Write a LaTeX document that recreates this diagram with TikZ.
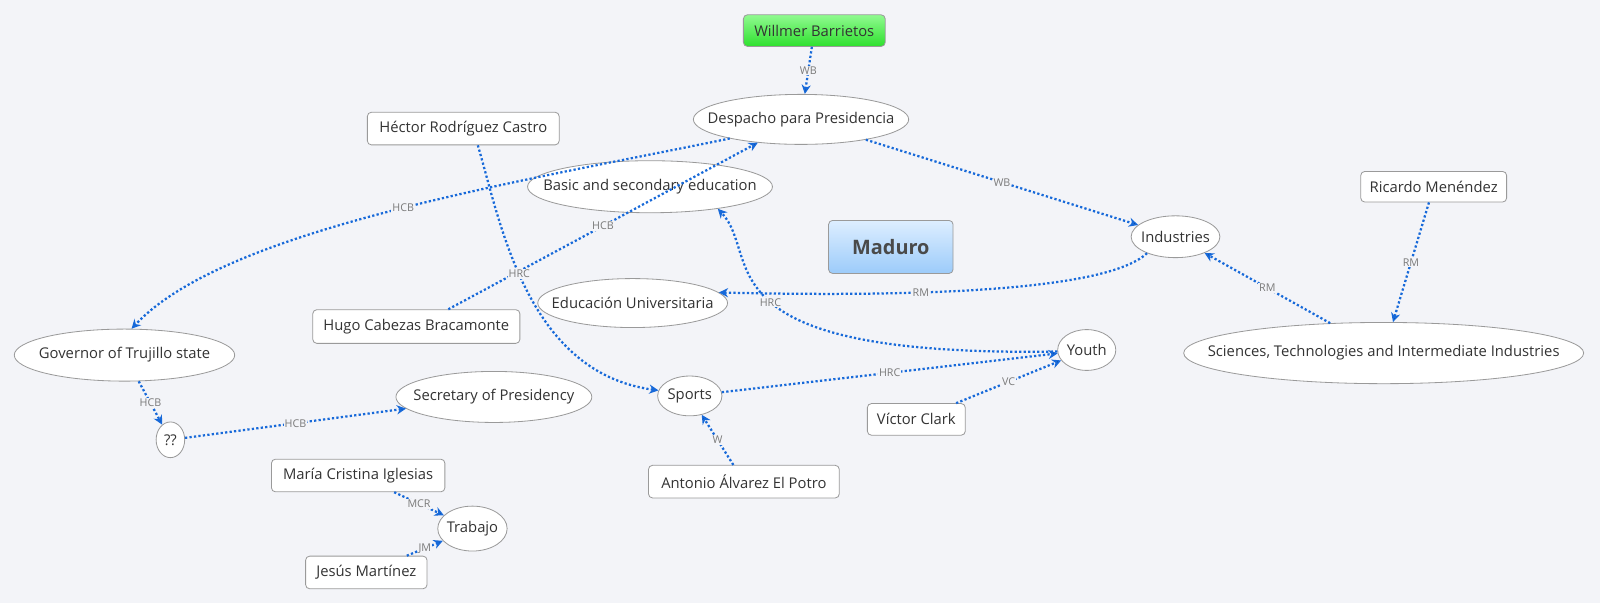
\documentclass[tikz,border=0pt]{standalone}
\usepackage{fontspec}
\setmainfont{Open Sans}
\usetikzlibrary{shapes.geometric,arrows.meta}

\definecolor{bgcol}{HTML}{F3F4F8}
\definecolor{relblue}{HTML}{1769D9}
\definecolor{bordgray}{HTML}{9A9A9A}
\definecolor{txtgray}{HTML}{333333}
\definecolor{lblgray}{HTML}{7A7A7A}
\definecolor{wbtop}{HTML}{90FA90}
\definecolor{wbbot}{HTML}{2EE02E}
\definecolor{madtop}{HTML}{DDEEFF}
\definecolor{madbot}{HTML}{9CCBFA}
\definecolor{madtext}{HTML}{4A4A4A}

\newcommand{\ctext}[1]{\makebox[0pt]{#1}}

\begin{document}
\begin{tikzpicture}[x=1pt,y=1pt,
    every node/.style={font=\fontsize{14.5}{17}\selectfont, text=txtgray},
    topic/.style 2 args={ellipse, draw=bordgray, line width=0.8pt, fill=white,
      minimum width=#1, minimum height=#2, inner sep=0pt},
    person/.style={rectangle, rounded corners=4pt, draw=bordgray, line width=0.8pt,
      fill=white, minimum height=32, inner xsep=6pt},
    rel/.style={draw=relblue, line width=2.2pt, dash pattern=on 2.2pt off 2.2pt,
      -{Stealth[length=9pt,width=9pt]}},
    lbl/.style={font=\fontsize{10.5}{12}\selectfont, text=lblgray, fill=bgcol, inner sep=1pt}]
  \fill[bgcol] (0,0) rectangle (1568,-591);
  \useasboundingbox (0,0) rectangle (1568,-591);

  % people
  \node[person, minimum width=139, minimum height=31, top color=wbtop, bottom color=wbbot] (wb) at (798,-30) {Willmer Barrietos};
  \node[person, minimum width=188] (hrc) at (454,-126) {Héctor Rodríguez Castro};
  \node[person, minimum width=143, minimum height=30] (rm) at (1405,-183) {Ricardo Menéndez};
  \node[person, minimum width=203, minimum height=33] (hcb) at (408,-320) {Hugo Cabezas Bracamonte};
  \node[person, minimum width=96, minimum height=31] (vc) at (898,-411) {Víctor Clark};
  \node[person, minimum width=170] (mci) at (351,-466) {María Cristina Iglesias};
  \node[person, minimum width=187] (aaep) at (729,-472) {Antonio Álvarez El Potro};
  \node[person, minimum width=119] (jm) at (359,-561) {Jesús Martínez};
  \node[person, minimum width=122, minimum height=52, top color=madtop, bottom color=madbot,
    font=\bfseries\fontsize{19.5}{22}\selectfont, text=madtext] (maduro) at (873,-242) {Maduro};

  % offices
  \node[topic={211}{49}] (desp) at (785,-117) {\ctext{Despacho para Presidencia}};
  \node[topic={240}{51}] (basic) at (637,-183) {\ctext{Basic and secondary education}};
  \node[topic={87}{41}] (ind) at (1152,-232) {\ctext{Industries}};
  \node[topic={186}{48}] (eduuni) at (620,-297) {\ctext{Educación Universitaria}};
  \node[topic={216}{51}] (gov) at (122,-348) {\ctext{Governor of Trujillo state}};
  \node[topic={57}{40}] (youth) at (1065,-343) {\ctext{Youth}};
  \node[topic={392}{60}] (sci) at (1356,-346) {\ctext{Sciences, Technologies and Intermediate Industries}};
  \node[topic={192}{50}] (secr) at (484,-389) {\ctext{Secretary of Presidency}};
  \node[topic={63}{39}] (sports) at (676,-388) {\ctext{Sports}};
  \node[topic={28}{35}] (qq) at (167,-431) {\ctext{??}};
  \node[topic={68}{44}] (trab) at (463,-518) {\ctext{Trabajo}};

  \path[rel] (wb) edge node[lbl] {WB} (desp)
             (desp) edge node[lbl] {WB} (ind)
             (hcb) edge node[lbl] {HCB} (desp)
             (rm) edge node[lbl] {RM} (sci)
             (sci) edge node[lbl] {RM} (ind)
             (sports) edge node[lbl] {HRC} (youth)
             (vc) edge node[lbl] {VC} (youth)
             (gov) edge node[lbl] {HCB} (qq)
             (qq) edge node[lbl] {HCB} (secr)
             (mci) edge node[lbl] {MCR} (trab)
             (jm) edge node[lbl] {JM} (trab)
             (aaep) edge node[lbl] {W} (sports);

  \draw[rel] (desp.195) .. controls (500,-180) and (220,-225) .. (gov.75) node[lbl, pos=0.47] {HCB};
  \draw[rel] (hrc.-49) .. controls (490,-215) and (515,-365) .. (sports.170) node[lbl, pos=0.45] {HRC};
  \draw[rel] (youth.183) .. controls (680,-350) and (748,-252) .. (basic.-18) node[lbl, pos=0.49] {HRC};
  \draw[rel] (ind.210) .. controls (1080,-290) and (850,-290) .. (eduuni.7) node[lbl, pos=0.6] {RM};
\end{tikzpicture}
\end{document}
